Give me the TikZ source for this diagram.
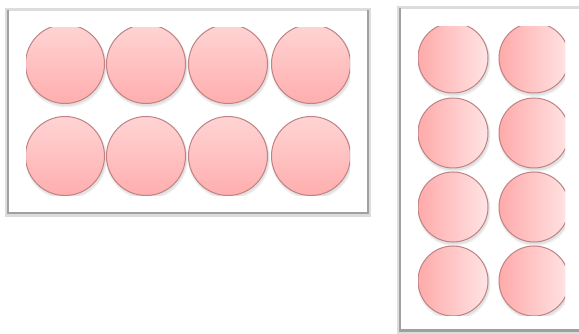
\documentclass[tikz,border=0pt]{standalone}
\definecolor{circedge}{RGB}{192,130,130}
\definecolor{pinkLight}{RGB}{255,212,212}
\definecolor{pinkDark}{RGB}{255,174,174}
\definecolor{pinkLightR}{RGB}{255,228,228}
\definecolor{pinkDarkR}{RGB}{255,170,170}
\definecolor{frameDark}{RGB}{160,160,160}
\definecolor{frameLight}{RGB}{220,220,220}
\tikzset{
  hball/.style={circle, inner sep=0pt, minimum size=79pt, draw=circedge, line width=1pt,
    top color=pinkLight, bottom color=pinkDark},
  vball/.style={circle, inner sep=0pt, minimum size=70pt, draw=circedge, line width=1pt,
    left color=pinkDarkR, right color=pinkLightR},
  ballshadow/.style={fill=black, opacity=0.06}
}
\begin{document}
\begin{tikzpicture}[x=1pt,y=-1pt]
\useasboundingbox (0,0) rectangle (579,334);
\clip (0,0) rectangle (579,334);
\fill[white] (0,0) rectangle (579,334);

% ---- left frame ----
\fill[frameLight] (5,8) rectangle (371,217);
\fill[frameDark] (7,10) rectangle (369,214);
\fill[white] (9,11) rectangle (367,212);
\draw[frameLight, line width=0.6pt] (9,10.5) -- (367,10.5);

\begin{scope}
  \clip (26,28) rectangle (350,196);
  \foreach \cx in {65,146,228,311}{
    \fill[ballshadow] (\cx+1,64+2.5) circle (41pt);
    \fill[ballshadow] (\cx+1,64+2) circle (40pt);
    \fill[ballshadow] (\cx+1,156+2.5) circle (41pt);
    \fill[ballshadow] (\cx+1,156+2) circle (40pt);
  }
  \node[hball] (l1) at (65,64) {};
  \node[hball] (l2) at (146,64) {};
  \node[hball] (l3) at (228,64) {};
  \node[hball] (l4) at (311,64) {};
  \node[hball] (l5) at (65,156) {};
  \node[hball] (l6) at (146,156) {};
  \node[hball] (l7) at (228,156) {};
  \node[hball] (l8) at (311,156) {};
\end{scope}

% ---- right frame ----
\fill[frameLight] (397,6) rectangle (600,334);
\fill[frameDark] (399,8) rectangle (600,332);
\fill[white] (401,9) rectangle (600,329);
\draw[frameLight, line width=0.6pt] (401,8.5) -- (600,8.5);

\begin{scope}
  \clip (418,27) rectangle (565,315);
  \foreach \cy in {58,133,207,281}{
    \fill[ballshadow] (453+1,\cy+2.5) circle (36.5pt);
    \fill[ballshadow] (453+1,\cy+2) circle (35.5pt);
    \fill[ballshadow] (534+1,\cy+2.5) circle (36.5pt);
    \fill[ballshadow] (534+1,\cy+2) circle (35.5pt);
  }
  \node[vball] (r1) at (453,58) {};
  \node[vball] (r2) at (534,58) {};
  \node[vball] (r3) at (453,133) {};
  \node[vball] (r4) at (534,133) {};
  \node[vball] (r5) at (453,207) {};
  \node[vball] (r6) at (534,207) {};
  \node[vball] (r7) at (453,281) {};
  \node[vball] (r8) at (534,281) {};
\end{scope}
\end{tikzpicture}
\end{document}
